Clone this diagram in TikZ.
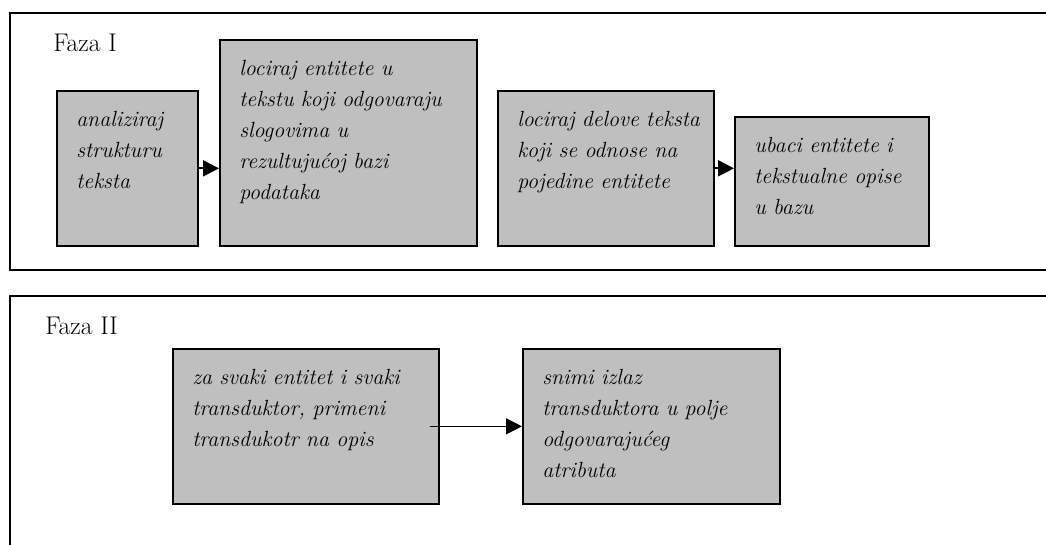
\documentclass[tikz,border=0pt]{standalone}
\usetikzlibrary{arrows.meta}
\definecolor{siva}{gray}{0.75}
\begin{document}
\begin{tikzpicture}[
  kutija/.style={draw, line width=1.2pt, fill=siva, anchor=north west, inner sep=0pt},
  opis/.style={anchor=base west, inner sep=0pt, align=left, font=\fontsize{15.6}{22}\selectfont\itshape},
  faza/.style={anchor=base west, inner sep=0pt, font=\fontsize{18.2}{21}\selectfont},
  okvir/.style={draw, line width=1.3pt},
  strelica/.style={draw, line width=1.5pt, -{Triangle[length=0.4cm,width=0.4cm]}},
  tanka/.style={draw, line width=0.9pt, -{Triangle[length=0.4cm,width=0.4cm]}}]
\useasboundingbox (0,0) rectangle (26.15,13.625);
\clip (0,0) rectangle (26.15,13.625);
\newcommand\korak[6]{
\node[kutija, minimum width=#3cm, minimum height=#4cm] (#1) at (#2) {};
\node[opis, text width=#5cm] (#1t) at ([xshift=0.5cm,yshift=-0.925cm]#1.north west) {#6};
}
% faza I
\path[okvir] (26.3,13.3) -| (0.25,6.875) -- (26.3,6.875);
\node[faza] (f1) at (1.325,12.325) {Faza I};
\korak{1}{1.4,11.375}{3.525}{3.875}{3.025}{analiziraj\\ strukturu\\ teksta}
\korak{2}{5.475,12.65}{6.425}{5.15}{5.925}{lociraj entitete u\\ tekstu koji odgovaraju\\ slogovima u\\ rezultujućoj bazi\\ podataka}
\korak{3}{12.425,11.375}{5.4}{3.875}{4.9}{lociraj delove teksta\\ koji se odnose na\\ pojedine entitete}
\korak{4}{18.35,10.725}{4.85}{3.225}{4.35}{ubaci entitete i\\ tekstualne opise\\ u bazu}
\path[strelica] (1.east) -- (1.east -| 2.west);
\path[strelica] (3.east) -- (3.east -| 4.west);
% faza II
\path[okvir] (26.3,6.225) -| (0.25,-0.1);
\node[faza] (f2) at (1.125,5.25) {Faza II};
\korak{5}{4.3,4.925}{6.65}{3.875}{6.15}{za svaki entitet i svaki\\ transduktor, primeni\\ transdukotr na opis}
\korak{6}{13.05,4.925}{6.425}{3.875}{5.925}{snimi izlaz\\ transduktora u polje\\ odgovarajućeg\\ atributa}
\path[tanka] ([xshift=-0.25cm]5.east) -- (6.west);
\end{tikzpicture}
\end{document}
